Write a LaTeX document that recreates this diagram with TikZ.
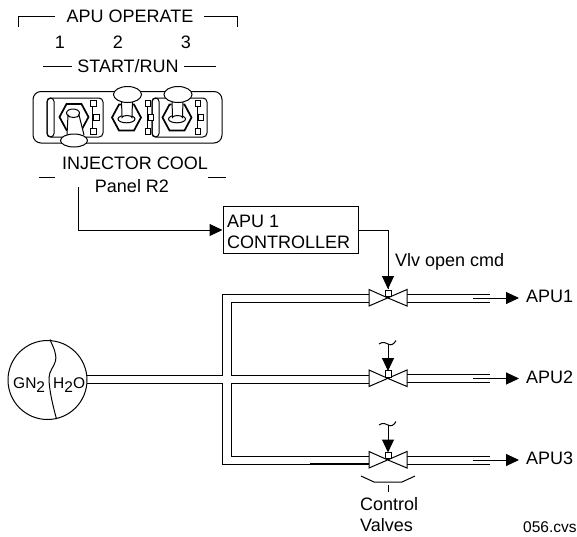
\documentclass[tikz,border=0pt]{standalone}
\usepackage{fontspec}
\setmainfont{Liberation Sans}
\usetikzlibrary{arrows.meta}
\tikzset{
  lbl/.style={inner sep=0pt,anchor=base west,font=\fontsize{18}{21}\selectfont},
  lblc/.style={lbl,anchor=base},
  tanklbl/.style={lbl,font=\fontsize{15.5}{18}\selectfont},
  ln/.style={draw=black,line width=1pt},
  hexln/.style={draw=black,line width=1.7pt,line join=miter,fill=white},
  arr/.style={ln,-{Triangle[length=13pt,width=12pt]}},
  valveshape/.style={ln,fill=white,line join=miter},
  paddle/.style={ln,fill=white},
}
\newcommand{\swhex}[2]{% centre x, y
  \draw[hexln] (#1-14.5,#2) -- (#1-7.5,#2-13) -- (#1+7.5,#2-13) -- (#1+14.5,#2) -- (#1+7.5,#2+13) -- (#1-7.5,#2+13) -- cycle;}
\newcommand{\swup}[2]{% hex centre x, y; lever up
  \swhex{#1}{#2}
  \draw[ln] (#1,#2+1.5) ellipse (8.5 and 3.8);
  \fill[white] (#1-5,#2+2) -- (#1-5.5,#2-18) -- (#1+6.5,#2-18) -- (#1+5.5,#2+2) -- cycle;
  \draw[ln] (#1-5,#2-18) -- (#1-4.5,#2) arc (180:360:5 and 2) -- (#1+6,#2-18);
  \draw[paddle] (#1+1,#2-23) ellipse (14 and 8);}
\newcommand{\swdown}[2]{%
  \swhex{#1}{#2}
  \draw[ln] (#1-1,#2-4) ellipse (6.5 and 4);
  \fill[white] (#1-6,#2-2) -- (#1-7,#2+18) -- (#1+10,#2+18) -- (#1+5,#2-2) -- cycle;
  \draw[ln] (#1-7,#2+18) -- (#1-6,#2-2) arc (180:0:5.5 and 2.5) -- (#1+10,#2+18);
  \draw[paddle] (#1,#2+23.5) ellipse (13.5 and 6.5);}
\newcommand{\swsq}[1]{% left x of top and bottom squares
  \draw[ln] (#1+2,106) -- (#1+2,128);
  \draw[ln,fill=white] (#1,100) rectangle (#1+5.5,106);
  \draw[ln,fill=white] (#1+3,114) rectangle (#1+8.5,120);
  \draw[ln,fill=white] (#1,128) rectangle (#1+5.5,134);}
\newcommand{\swframe}[2]{% left, right x
  \draw[ln,rounded corners=4pt] (#1,98) rectangle (#2,137);
  \draw[ln,rounded corners=3.5pt] (#1,98) rectangle (#1+7,137);}
\begin{document}
\begin{tikzpicture}[x=1pt,y=-1pt]
\useasboundingbox (0,0) rectangle (577,536);
% headers
\node[lblc] (apuop) at (130,22) {APU OPERATE};
\draw[ln] (18.5,27) -- (18.5,16) -- (55,16);
\draw[ln] (204,16) -- (237,16) -- (237,27);
\node[lblc] (n1) at (60,48.5) {1};
\node[lblc] (n2) at (118,48.5) {2};
\node[lblc] (n3) at (186,48.5) {3};
\node[lblc] (start) at (128,72) {START/RUN};
\draw[ln] (43,66) -- (72,66);
\draw[ln] (184,66) -- (216,66);
% panel
\draw[ln,rounded corners=8pt] (33,91.5) rectangle (222,143);
\swframe{47}{103}
\swframe{152}{207}
\swsq{90.5}
\swsq{145}
\swsq{195}
\swdown{74}{117}
\swup{126.5}{117.5}
\swup{177}{117.5}
\node[lblc] (inj) at (135,169) {INJECTOR COOL};
\draw[ln] (39,177) -- (55,177);
\draw[ln] (208,177) -- (226,177);
\node[lblc] (panel) at (132,192) {Panel R2};
% controller
\node[draw=black,line width=1pt,anchor=north west,inner sep=0pt,minimum width=135pt,minimum height=47pt] (ctrl) at (222.5,206) {};
\node[lbl] (c1) at (227,227) {APU 1};
\node[lbl] (c2) at (227,248) {CONTROLLER};
\coordinate (inj0) at (78.5,187);
\draw[arr] (inj0) |- (ctrl.west);
% pipes
\coordinate (v1) at (388,298);
\coordinate (v2) at (388,378.5);
\coordinate (v3) at (388,460);
\coordinate (t) at (87,379);
\draw[ln] (ctrl.east |- 0,230) -| (v1 |- 0,289);
\draw[arr] (388,230) -- (388,289);
\draw[ln] (t |- 0,375) -- (222,375) -- (222,294) -- (369,294);
\draw[ln] (87,383) -- (222,383) -- (222,464) -- (369,464);
\draw[line width=1.7pt] (310,464) -- (369,464);
\draw[ln] (369,302) -- (231,302) -- (231,375) -- (369,375);
\draw[ln] (369,383) -- (231,383) -- (231,456) -- (369,456);
\foreach \y/\c/\n in {298/v1/APU1,378.5/v2/APU2,460/v3/APU3}{
  \draw[ln] (407,\y-4) -- (490,\y-4);
  \draw[ln] (407,\y+4) -- (490,\y+4);
  \coordinate (o\n) at (519,\y);
  \draw[arr] (473,\y) -- (o\n);
  \node[lbl] (l\n) at (526,\y+4.5) {\n};
  \draw[valveshape] (388,\y) -- (369,\y-8.5) -- (369,\y+8) -- (407,\y-8.5) -- (407,\y+8) -- cycle;
  \draw[ln,fill=white] (385,\y-8) rectangle (391,\y-1.5);
}
% signal arrows on APU2/3
\coordinate (s2) at (388,344);
\coordinate (s3) at (388,425);
\draw[arr] (s2) -- (388,371);
\draw[arr] (s3) -- (388,452.5);
\draw[ln] (379,344) .. controls (383,341) and (386,343) .. (388,344) .. controls (391,346) and (394,344) .. (396,340.5);
\draw[ln] (379,425) .. controls (383,422) and (386,424) .. (388,425) .. controls (391,427) and (394,425) .. (396,421.5);
\node[lbl] (vlv) at (395,266) {Vlv open cmd};
% bracket
\draw[ln] (361,476) -- (374,482) -- (402,482) -- (415,476);
\draw[ln] (388,485) -- (388,491.5);
\node[lbl] (cv1) at (360,510) {Control};
\node[lbl] (cv2) at (360,531) {Valves};
\node[lbl,font=\fontsize{15.5}{18}\selectfont] (fn) at (523,532) {056.cvs};
% tank
\draw[ln] (47.5,380) circle (39.5);
\draw[ln] (50,339.5) .. controls (53,347) and (57,353) .. (55.5,361) .. controls (54,367) and (49,371) .. (49,378) .. controls (49,390) and (53,406) .. (56.5,419);
\node[tanklbl] (gn) at (13,388) {GN\raisebox{-4pt}{2}};
\node[tanklbl] (ho) at (53,388) {H\raisebox{-4pt}{2}O};
\end{tikzpicture}
\end{document}
